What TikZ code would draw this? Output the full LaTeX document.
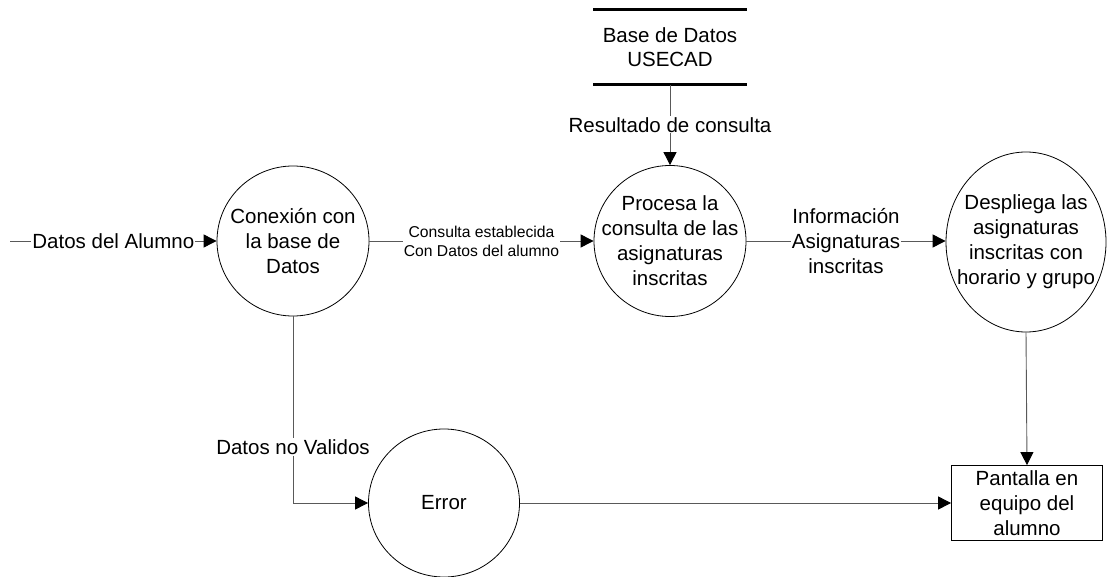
\documentclass[tikz,border=0pt]{standalone}
\usepackage{fontspec}
\setmainfont{Liberation Sans}
\usetikzlibrary{arrows.meta,shapes.geometric}
\newcommand{\bigtxt}{\fontsize{20.5}{25}\selectfont}
\newcommand{\smalltxt}{\fontsize{15.7}{19}\selectfont}
\tikzset{
procring/.style={draw,ellipse,line width=0.8pt,inner sep=0pt},
proctext/.style={align=center,font=\bigtxt,inner sep=0pt},
flow/.style={draw=black!65,line width=0.9pt,-{Triangle[length=13pt,width=13pt,color=black]}},
lab/.style={fill=white,inner sep=1pt,align=center,font=\bigtxt},
storeline/.style={line width=3pt}
}
\newcommand{\proc}[5]{
\node[procring,minimum width=#3,minimum height=#4] (#1) at (#2) {};
\node[proctext] at (#1) {#5};}

\begin{document}
\begin{tikzpicture}[x=1pt,y=-1pt]
\useasboundingbox (0,0) rectangle (1107,577);
\proc{conex}{293,241}{152pt}{150pt}{Conexión con\\la base de\\Datos}
\proc{procesa}{670,241}{152pt}{151pt}{Procesa la\\consulta de las\\asignaturas\\inscritas}
\proc{despliega}{1026,242}{160pt}{180pt}{Despliega las\\asignaturas\\inscritas con\\horario y grupo}
\proc{error}{444,503}{151pt}{148pt}{Error}
\node[draw,line width=0.8pt,minimum width=151pt,minimum height=75pt,align=center,font=\bigtxt,inner sep=0pt] (pantalla) at (1027,503) {Pantalla en\\equipo del\\alumno};
\node[minimum width=153pt,minimum height=75pt,align=center,inner sep=0pt,font=\fontsize{20.5}{24}\selectfont] (store) at (670,47) {Base de Datos\\USECAD};
\draw[storeline] (store.north west) -- (store.north east);
\draw[storeline] (store.south west) -- (store.south east);
\coordinate (entrada) at (10,241);
% flujos
\draw[flow] (entrada) -- node[lab]{Datos del Alumno} (conex.west);
\draw[flow] (conex.east) -- node[lab,font=\smalltxt]{Consulta establecida\\Con Datos del alumno} (procesa.west);
\draw[flow] (store.south) -- node[lab]{Resultado de consulta} (procesa.north);
\draw[flow] (procesa.east) -- node[lab]{Información\\Asignaturas\\inscritas} (procesa.east -| despliega.west);
\draw[flow] (conex.south) |- node[lab,pos=0.35]{Datos no Validos} (error.west);
\draw[flow] (error.east) -- (pantalla.west);
\draw[flow] (despliega.south) -- (pantalla.north);
\end{tikzpicture}
\end{document}
